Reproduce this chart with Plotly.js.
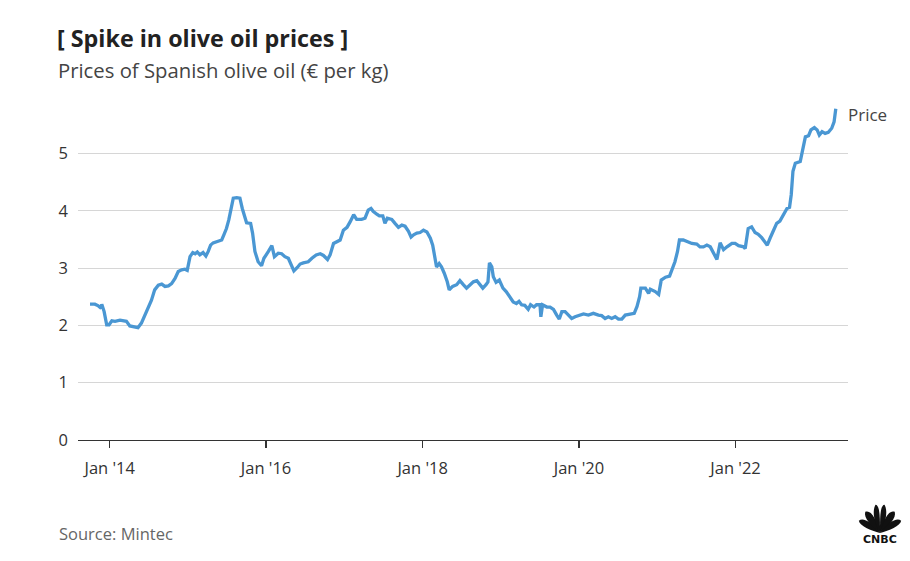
<!DOCTYPE html>
<html>
<head>
<meta charset="utf-8">
<script src="https://cdn.plot.ly/plotly-3.0.1.min.js"></script>
<style>
html,body{margin:0;padding:0;background:#fff;}
#chart{width:910px;height:561px;}
</style>
</head>
<body>
<div id="chart"></div>
<script>
// ---- data ----
const dates = [
"2013-10-01","2013-10-24","2013-11-09","2013-11-22","2013-11-25","2013-12-06","2013-12-18","2013-12-29",
"2014-01-11","2014-01-26","2014-02-18","2014-03-20","2014-04-05","2014-04-23","2014-05-13","2014-05-29",
"2014-06-14","2014-06-29","2014-07-15","2014-07-30","2014-08-16","2014-09-01","2014-09-16","2014-10-02",
"2014-10-17","2014-11-02","2014-11-17","2014-12-03","2014-12-18","2014-12-29",
"2015-01-11","2015-01-24","2015-02-04","2015-02-14","2015-02-26","2015-03-13","2015-03-26","2015-04-06",
"2015-04-17","2015-04-29","2015-05-15","2015-06-08","2015-06-18","2015-06-30","2015-07-11","2015-07-24",
"2015-08-01","2015-08-17","2015-09-01","2015-09-12","2015-09-21","2015-10-02","2015-10-21","2015-10-30",
"2015-11-10","2015-11-25","2015-12-11","2015-12-22",
"2016-01-12","2016-01-28","2016-02-09","2016-02-27","2016-03-14","2016-03-29","2016-04-14","2016-04-30",
"2016-05-10","2016-05-26","2016-06-08","2016-06-23","2016-07-16","2016-08-02","2016-08-22","2016-09-10",
"2016-09-25","2016-10-14","2016-10-26","2016-11-11","2016-11-27","2016-12-12","2016-12-27",
"2017-01-13","2017-01-28","2017-02-13","2017-02-27","2017-03-22","2017-04-07","2017-04-22","2017-05-05",
"2017-05-15","2017-06-01","2017-06-13","2017-06-29","2017-07-09","2017-07-20","2017-08-10","2017-08-25",
"2017-09-10","2017-09-26","2017-10-11","2017-10-27","2017-11-08","2017-11-20","2017-12-05","2017-12-20",
"2018-01-05","2018-01-21","2018-02-06","2018-02-17","2018-02-27","2018-03-07","2018-03-19","2018-03-30",
"2018-04-12","2018-04-26","2018-05-05","2018-05-21","2018-06-09","2018-06-24","2018-07-10","2018-07-25",
"2018-08-11","2018-08-26","2018-09-11","2018-09-26","2018-10-09","2018-10-24","2018-11-02","2018-11-09",
"2018-11-20","2018-11-27","2018-12-10","2018-12-25",
"2019-01-11","2019-01-26","2019-02-11","2019-02-28","2019-03-15","2019-03-27","2019-04-08","2019-04-23",
"2019-05-09","2019-05-20","2019-06-05","2019-06-17","2019-07-03","2019-07-07","2019-07-15","2019-08-04",
"2019-08-19","2019-09-04","2019-09-19","2019-10-01","2019-10-13","2019-10-28","2019-11-13","2019-11-28",
"2019-12-14",
"2020-01-07","2020-01-22","2020-02-14","2020-03-08","2020-04-01","2020-04-16","2020-05-02","2020-05-17",
"2020-06-02","2020-06-18","2020-07-03","2020-07-19","2020-08-04","2020-08-27","2020-09-15","2020-09-28",
"2020-10-10","2020-10-16","2020-11-06","2020-11-21","2020-11-29","2020-12-22",
"2021-01-07","2021-01-19","2021-02-08","2021-02-27","2021-03-09","2021-03-24","2021-04-05","2021-04-14",
"2021-05-02","2021-05-18","2021-06-11","2021-07-04","2021-07-19","2021-08-04","2021-08-20","2021-09-05",
"2021-09-20","2021-10-06","2021-10-21","2021-11-06","2021-11-22","2021-12-15","2021-12-30",
"2022-01-15","2022-02-08","2022-02-15","2022-03-01","2022-03-17","2022-04-02","2022-04-17","2022-05-03",
"2022-05-18","2022-05-29","2022-06-11","2022-06-26","2022-07-12","2022-07-27","2022-08-13","2022-08-29",
"2022-09-10","2022-09-18","2022-09-26","2022-10-07","2022-10-30","2022-11-07","2022-11-23","2022-12-08",
"2022-12-19",
"2023-01-04","2023-01-17","2023-01-27","2023-02-09","2023-02-23","2023-03-10","2023-03-26","2023-04-06",
"2023-04-14"
];
const prices = [
2.37,2.37,2.34,2.30,2.37,2.24,2.01,2.01,
2.08,2.07,2.09,2.07,1.99,1.97,1.96,2.04,
2.18,2.30,2.44,2.62,2.70,2.72,2.68,2.69,
2.73,2.82,2.94,2.97,2.98,2.96,
3.20,3.27,3.25,3.28,3.23,3.27,3.21,3.29,
3.40,3.44,3.46,3.49,3.58,3.69,3.84,4.07,
4.22,4.23,4.22,4.04,3.93,3.79,3.78,3.61,
3.29,3.11,3.04,3.17,
3.29,3.39,3.20,3.26,3.25,3.20,3.17,3.02,
2.95,3.01,3.07,3.09,3.11,3.17,3.23,3.25,
3.22,3.15,3.23,3.43,3.46,3.49,3.66,
3.71,3.81,3.93,3.85,3.85,3.87,4.01,4.04,
3.99,3.94,3.91,3.91,3.78,3.87,3.85,3.78,
3.71,3.75,3.73,3.64,3.54,3.58,3.61,3.62,
3.66,3.63,3.52,3.40,3.17,3.02,3.08,3.02,
2.91,2.76,2.62,2.68,2.71,2.78,2.71,2.65,
2.71,2.76,2.78,2.71,2.65,2.71,2.76,3.09,
3.02,2.85,2.75,2.79,
2.65,2.59,2.49,2.41,2.38,2.42,2.36,2.35,
2.28,2.36,2.32,2.36,2.36,2.15,2.36,2.32,
2.32,2.28,2.18,2.11,2.24,2.24,2.18,2.12,
2.15,
2.18,2.20,2.18,2.21,2.18,2.17,2.12,2.15,
2.12,2.15,2.11,2.11,2.18,2.19,2.21,2.33,
2.50,2.65,2.65,2.56,2.63,2.59,
2.54,2.79,2.84,2.86,2.97,3.11,3.29,3.49,
3.49,3.46,3.43,3.42,3.37,3.37,3.40,3.37,
3.26,3.15,3.44,3.32,3.37,3.43,3.43,
3.39,3.37,3.34,3.69,3.72,3.62,3.59,3.53,
3.46,3.40,3.52,3.64,3.78,3.82,3.93,4.04,
4.06,4.28,4.69,4.83,4.86,5.00,5.29,5.31,
5.41,
5.45,5.41,5.32,5.38,5.35,5.37,5.44,5.55,
5.78
];
const seriesName = "Price";
const yTicks = [0, 1, 2, 3, 4, 5];
const xTicks = ["2014-01-01", "2016-01-01", "2018-01-01", "2020-01-01", "2022-01-01"];
const xTickText = ["Jan '14", "Jan '16", "Jan '18", "Jan '20", "Jan '22"];

const FONT = "'Open Sans', Lato, sans-serif";

const trace = {
  type: "scatter",
  mode: "lines",
  x: dates,
  y: prices,
  name: seriesName,
  line: {color: "#4a97d3", width: 3.3, shape: "linear"},
  hoverinfo: "x+y"
};

const peacock = 'data:image/svg+xml;utf8,' + encodeURIComponent(
'<svg xmlns="http://www.w3.org/2000/svg" viewBox="0 0 100 70">' +
'<g fill="#111">' +
'<path d="M50 68 C30 62 6 52 4 40 C14 32 32 44 50 68Z"/>' +
'<path d="M50 68 C30 52 14 34 18 20 C30 14 42 36 50 68Z"/>' +
'<path d="M50 68 C38 46 32 20 40 4 C50 4 50 34 50 68Z"/>' +
'<path d="M50 68 C50 34 50 4 60 4 C68 20 62 46 50 68Z"/>' +
'<path d="M50 68 C58 36 70 14 82 20 C86 34 70 52 50 68Z"/>' +
'<path d="M50 68 C68 44 86 32 96 40 C94 52 70 62 50 68Z"/>' +
'</g></svg>');

const layout = {
  width: 910,
  height: 561,
  paper_bgcolor: "#ffffff",
  plot_bgcolor: "#ffffff",
  margin: {l: 78, r: 62, t: 99, b: 121},
  showlegend: false,
  font: {family: FONT, color: "#333333", size: 15},
  title: {
    text: "<b>[ Spike in olive oil prices ]</b>",
    xref: "container", yref: "container",
    x: 57/910, xanchor: "left",
    y: 1 - 39/561, yanchor: "middle",
    font: {family: FONT, size: 23.3, color: "#222222"}
  },
  xaxis: {
    type: "date",
    range: ["2013-08-06", "2023-06-10"],
    tickmode: "array",
    tickvals: xTicks,
    ticktext: xTickText,
    showgrid: false,
    zeroline: false,
    showline: true,
    linecolor: "#333333",
    linewidth: 1.3,
    ticks: "outside",
    ticklen: 7,
    tickwidth: 1.2,
    tickcolor: "#333333",
    ticklabelstandoff: 6,
    tickfont: {family: FONT, size: 16.5, color: "#333333"}
  },
  yaxis: {
    range: [0, 5.95],
    tickmode: "array",
    tickvals: yTicks,
    showgrid: true,
    gridcolor: "#d6d6d6",
    gridwidth: 1,
    zeroline: false,
    showline: false,
    ticks: "",
    ticklabelstandoff: 9,
    tickfont: {family: FONT, size: 16.5, color: "#333333"}
  },
  annotations: [
    {
      text: "Prices of Spanish olive oil (€ per kg)",
      xref: "paper", yref: "paper",
      x: (56 - 78) / 770, xanchor: "left",
      y: (440 - 70) / 341, yanchor: "middle",
      showarrow: false,
      font: {family: FONT, size: 20.3, color: "#444444"}
    },
    {
      text: seriesName,
      x: dates[dates.length - 1], y: prices[prices.length - 1],
      xref: "x", yref: "y",
      xanchor: "left", yanchor: "middle",
      xshift: 10, yshift: -6,
      showarrow: false,
      font: {family: FONT, size: 17, color: "#444444"}
    },
    {
      text: "Source: Mintec",
      xref: "paper", yref: "paper",
      x: (57 - 78) / 770, xanchor: "left",
      y: (440 - 533) / 341, yanchor: "middle",
      showarrow: false,
      font: {family: FONT, size: 16.5, color: "#666666"}
    },
    {
      text: "<b>CNBC</b>",
      xref: "paper", yref: "paper",
      x: (880 - 78) / 770, xanchor: "center",
      y: (440 - 539) / 341, yanchor: "middle",
      showarrow: false,
      font: {family: "'DejaVu Sans', sans-serif", size: 11, color: "#111111"}
    }
  ],
  images: [
    {
      source: peacock,
      xref: "paper", yref: "paper",
      x: (880 - 78) / 770, y: (440 - 503) / 341,
      sizex: 46 / 770, sizey: 31 / 341,
      xanchor: "center", yanchor: "top",
      sizing: "stretch",
      layer: "above"
    }
  ]
};

Plotly.newPlot("chart", [trace], layout, {displayModeBar: false, staticPlot: true});
</script>
</body>
</html>
